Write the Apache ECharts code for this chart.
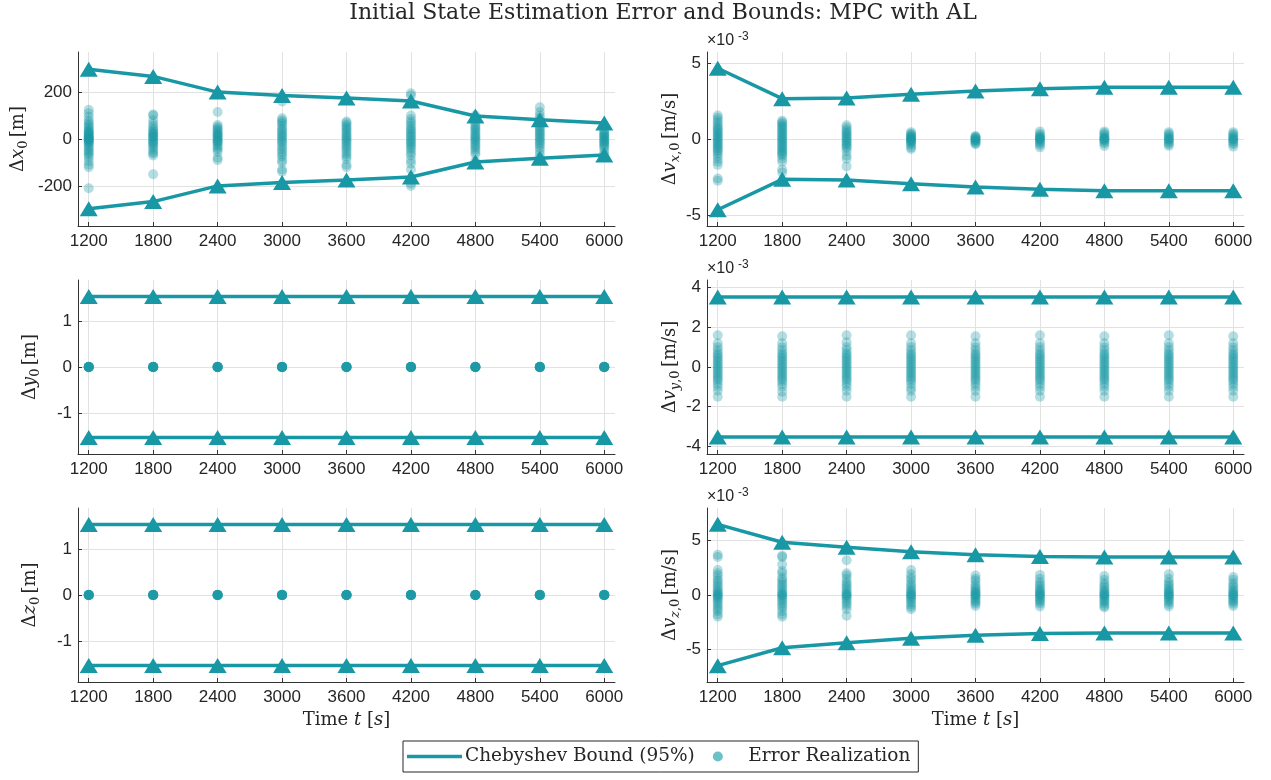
<!DOCTYPE html>
<html><head><meta charset="utf-8">
<script src="https://cdn.jsdelivr.net/npm/echarts@6/dist/echarts.min.js"></script>
<style>html,body{margin:0;padding:0;background:#fff}#c{width:1271px;height:780px}</style>
</head><body><div id="c"></div>
<script>
// ---------------- DATA ----------------
const times = [1200, 1800, 2400, 3000, 3600, 4200, 4800, 5400, 6000];
const xTickValues = [1200, 1800, 2400, 3000, 3600, 4200, 4800, 5400, 6000];

// Chebyshev bounds (upper; lower is the negative)
const boundX  = [297, 267, 200, 186, 175, 162, 98, 82, 68];           // m
const boundVx = [4.65, 2.65, 2.7, 2.95, 3.15, 3.3, 3.4, 3.4, 3.4];    // 1e-3 m/s
const boundY  = [1.53, 1.53, 1.53, 1.53, 1.53, 1.53, 1.53, 1.53, 1.53]; // m
const boundVy = [3.52, 3.52, 3.52, 3.52, 3.52, 3.52, 3.52, 3.52, 3.52]; // 1e-3 m/s
const boundZ  = [1.53, 1.53, 1.53, 1.53, 1.53, 1.53, 1.53, 1.53, 1.53]; // m
const boundVz = [6.5, 4.85, 4.38, 3.98, 3.7, 3.55, 3.5, 3.5, 3.5];    // 1e-3 m/s

// Error realizations, one list per time
const errX = [
  [125,110,95,80,70,62,55,48,40,35,30,28,22,18,15,10,8,5,2,0,-3,-5,-10,-14,-18,-25,-32,-40,-48,-55,-62,-70,-80,-95,-110,-120,-210],
  [105,100,80,65,55,45,38,30,25,22,15,10,8,2,-5,-12,-15,-20,-28,-35,-45,-55,-62,-70,-150],
  [115,60,52,45,40,33,27,20,18,14,8,3,-2,-8,-10,-15,-22,-30,-38,-45,-55,-80,-90],
  [160,88,80,72,65,55,45,38,30,22,15,8,0,-8,-15,-25,-35,-45,-55,-65,-75,-90,-100,-130,-140],
  [170,75,68,60,52,45,38,30,22,15,8,2,-5,-12,-20,-28,-36,-45,-55,-65,-75,-85,-110,-120],
  [195,185,100,85,75,65,55,45,38,30,22,15,8,0,-8,-15,-22,-30,-38,-48,-60,-70,-90,-105,-130,-190,-200],
  [100,85,70,60,52,45,38,30,22,15,8,2,-5,-12,-20,-28,-35,-45,-55,-65,-95],
  [135,115,100,88,75,65,55,48,40,32,25,18,10,3,-5,-12,-20,-28,-38,-50,-65,-80],
  [38,32,25,20,15,10,5,0,-5,-10,-15,-20,-25,-32,-40,-55,-65]
];
const errVx = [
  [1.55,1.4,1.25,1.1,0.95,0.8,0.7,0.6,0.5,0.4,0.3,0.2,0.1,0,-0.1,-0.2,-0.3,-0.4,-0.5,-0.6,-0.7,-0.8,-0.95,-1.1,-1.3,-1.5,-1.7,-2.6,-2.75],
  [1.2,1.1,1.0,0.9,0.8,0.7,0.6,0.5,0.4,0.3,0.2,0.1,0,-0.1,-0.2,-0.3,-0.4,-0.5,-0.6,-0.7,-0.8,-0.9,-1.0,-1.1,-1.3,-1.5,-2.0,-2.2],
  [0.9,0.75,0.6,0.5,0.4,0.3,0.2,0.1,0,-0.1,-0.2,-0.3,-0.4,-0.5,-0.6,-0.8,-1.1,-1.3,-1.8],
  [0.45,0.35,0.3,0.2,0.15,0.1,0.05,0,-0.05,-0.1,-0.15,-0.2,-0.3,-0.4,-0.55,-0.65],
  [0.2,0.15,0.1,0.05,0,-0.05,-0.1,-0.15,-0.2,-0.3,-0.35],
  [0.5,0.35,0.25,0.15,0.1,0.05,0,-0.05,-0.1,-0.2,-0.3,-0.4,-0.55],
  [0.5,0.4,0.3,0.2,0.1,0.05,0,-0.05,-0.1,-0.2,-0.3,-0.45],
  [0.45,0.35,0.25,0.15,0.05,0,-0.05,-0.15,-0.25,-0.35,-0.45],
  [0.45,0.35,0.25,0.15,0.05,0,-0.05,-0.15,-0.25,-0.35,-0.5]
];
const errY = [
  [0.004,-0.003,0,0.002,-0.002,0.001,-0.001,0.003,-0.004,0],
  [0.004,-0.003,0,0.002,-0.002,0.001,-0.001,0.003,-0.004,0],
  [0.004,-0.003,0,0.002,-0.002,0.001,-0.001,0.003,-0.004,0],
  [0.004,-0.003,0,0.002,-0.002,0.001,-0.001,0.003,-0.004,0],
  [0.004,-0.003,0,0.002,-0.002,0.001,-0.001,0.003,-0.004,0],
  [0.004,-0.003,0,0.002,-0.002,0.001,-0.001,0.003,-0.004,0],
  [0.004,-0.003,0,0.002,-0.002,0.001,-0.001,0.003,-0.004,0],
  [0.004,-0.003,0,0.002,-0.002,0.001,-0.001,0.003,-0.004,0],
  [0.004,-0.003,0,0.002,-0.002,0.001,-0.001,0.003,-0.004,0]
];
const errVy = [
  [1.6,1.2,1.0,0.85,0.7,0.6,0.5,0.4,0.3,0.2,0.1,0,-0.1,-0.2,-0.3,-0.4,-0.5,-0.6,-0.7,-0.85,-1.0,-1.2,-1.5],
  [1.55,1.2,1.0,0.85,0.7,0.6,0.5,0.4,0.3,0.2,0.1,0,-0.1,-0.2,-0.3,-0.4,-0.5,-0.6,-0.7,-0.85,-1.0,-1.25,-1.5],
  [1.6,1.25,1.0,0.85,0.7,0.6,0.5,0.4,0.3,0.2,0.1,0,-0.1,-0.2,-0.3,-0.4,-0.5,-0.6,-0.7,-0.85,-1.0,-1.2,-1.5],
  [1.6,1.2,1.0,0.85,0.7,0.6,0.5,0.4,0.3,0.2,0.1,0,-0.1,-0.2,-0.3,-0.4,-0.5,-0.6,-0.7,-0.85,-1.05,-1.2,-1.5],
  [1.55,1.2,1.0,0.85,0.7,0.6,0.5,0.4,0.3,0.2,0.1,0,-0.1,-0.2,-0.3,-0.4,-0.5,-0.6,-0.7,-0.85,-1.0,-1.2,-1.5],
  [1.6,1.2,1.0,0.85,0.7,0.6,0.5,0.4,0.3,0.2,0.1,0,-0.1,-0.2,-0.3,-0.4,-0.5,-0.6,-0.7,-0.85,-1.0,-1.2,-1.5],
  [1.55,1.2,1.0,0.85,0.7,0.6,0.5,0.4,0.3,0.2,0.1,0,-0.1,-0.2,-0.3,-0.4,-0.5,-0.6,-0.7,-0.85,-1.0,-1.2,-1.5],
  [1.6,1.2,1.0,0.85,0.7,0.6,0.5,0.4,0.3,0.2,0.1,0,-0.1,-0.2,-0.3,-0.4,-0.5,-0.6,-0.7,-0.85,-1.0,-1.2,-1.5],
  [1.55,1.2,1.0,0.85,0.7,0.6,0.5,0.4,0.3,0.2,0.1,0,-0.1,-0.2,-0.3,-0.4,-0.5,-0.6,-0.7,-0.85,-1.0,-1.2,-1.5]
];
const errZ = errY.map(c => c.slice());
const errVz = [
  [3.7,3.5,2.3,2.0,1.8,1.5,1.3,1.1,0.9,0.7,0.5,0.35,0.2,0.1,0,-0.1,-0.2,-0.35,-0.5,-0.7,-0.9,-1.1,-1.3,-1.5,-1.8,-2.0],
  [3.6,3.5,2.8,2.2,2.0,1.6,1.4,1.2,1.0,0.8,0.6,0.4,0.2,0.1,0,-0.1,-0.25,-0.4,-0.6,-0.8,-1.0,-1.2,-1.5,-1.8,-2.0],
  [3.2,2.0,1.8,1.5,1.2,1.0,0.8,0.6,0.4,0.2,0.1,0,-0.1,-0.2,-0.4,-0.6,-0.8,-1.0,-1.3,-1.9],
  [2.3,1.9,1.6,1.4,1.1,0.9,0.7,0.5,0.35,0.2,0.1,0,-0.1,-0.2,-0.35,-0.5,-0.7,-0.9,-1.1,-1.3],
  [1.8,1.5,1.3,1.0,0.8,0.6,0.45,0.3,0.2,0.1,0,-0.1,-0.2,-0.35,-0.5,-0.65,-0.8,-1.0],
  [1.85,1.5,1.2,1.0,0.8,0.6,0.45,0.3,0.2,0.1,0,-0.1,-0.2,-0.35,-0.5,-0.65,-0.8,-1.05],
  [1.75,1.4,1.1,0.9,0.7,0.5,0.35,0.2,0.1,0,-0.1,-0.2,-0.35,-0.5,-0.65,-0.8,-1.0,-1.15],
  [1.9,1.5,1.2,1.0,0.8,0.6,0.45,0.3,0.2,0.1,0,-0.1,-0.2,-0.35,-0.5,-0.65,-0.85,-1.05],
  [1.65,1.4,1.1,0.9,0.7,0.5,0.35,0.2,0.1,0,-0.1,-0.2,-0.35,-0.5,-0.65,-0.8,-1.0]
];

const yTicksX  = [-200, 0, 200];
const yTicksVx = [-5, 0, 5];
const yTicksY  = [-1, 0, 1];
const yTicksVy = [-4, -2, 0, 2, 4];
const yTicksZ  = [-1, 0, 1];
const yTicksVz = [-5, 0, 5];

const titleText = 'Initial State Estimation Error and Bounds: MPC with AL';
const boundName = 'Chebyshev Bound (95%)';
const errName = 'Error Realization';

// ---------------- STYLE / LAYOUT ----------------
const C = '#1897a5';
const TXT = '#262626';
const SERIF = '"DejaVu Serif", serif';
const SANS = '"Liberation Sans", Arial, sans-serif';
const gridsPos = [
  {left: 78, top: 52}, {left: 707, top: 52},
  {left: 78, top: 280}, {left: 707, top: 280},
  {left: 78, top: 508}, {left: 707, top: 508}
];
const panels = [
  {err: errX,  bnd: boundX,  ticks: yTicksX,  lim: 371,  name: '{r|Δ}{i|x}{s0|0} {r|[m]}', gap: 48},
  {err: errVx, bnd: boundVx, ticks: yTicksVx, lim: 5.72, name: '{r|Δ}{i|v}{s|x}{s0|,0} {r|[m/s]}', gap: 24, sci: true},
  {err: errY,  bnd: boundY,  ticks: yTicksY,  lim: 1.89, name: '{r|Δ}{i|y}{s0|0} {r|[m]}', gap: 36},
  {err: errVy, bnd: boundVy, ticks: yTicksVy, lim: 4.38, name: '{r|Δ}{i|v}{s|y}{s0|,0} {r|[m/s]}', gap: 24, sci: true},
  {err: errZ,  bnd: boundZ,  ticks: yTicksZ,  lim: 1.89, name: '{r|Δ}{i|z}{s0|0} {r|[m]}', gap: 36},
  {err: errVz, bnd: boundVz, ticks: yTicksVz, lim: 8.0,  name: '{r|Δ}{i|v}{s|z}{s0|,0} {r|[m/s]}', gap: 24, sci: true}
];
const nameRich = {
  r:  {fontFamily: SERIF, fontSize: 18, color: TXT},
  i:  {fontFamily: SERIF, fontSize: 18, fontStyle: 'italic', color: TXT},
  s:  {fontFamily: SERIF, fontSize: 13, fontStyle: 'italic', color: TXT, padding: [10, 0, 0, 0]},
  s0: {fontFamily: SERIF, fontSize: 13, color: TXT, padding: [10, 0, 0, 0]}
};
const plain = v => String(v);

const grid = [], xAxis = [], yAxis = [], series = [], graphic = [];
panels.forEach((p, k) => {
  grid.push({left: gridsPos[k].left, top: gridsPos[k].top, width: 537, height: 174});
  const bottomRow = k >= 4;
  xAxis.push({
    type: 'value', gridIndex: k, min: 1100, max: 6100,
    axisLine: {show: true, onZero: false, lineStyle: {color: '#333', width: 1}},
    axisTick: {show: true, inside: true, length: 4, customValues: xTickValues, lineStyle: {color: '#333'}},
    axisLabel: {customValues: xTickValues, formatter: plain, color: TXT, fontFamily: SANS, fontSize: 17, margin: 7},
    splitLine: {show: true, lineStyle: {color: '#e2e2e2', width: 1}},
    name: bottomRow ? '{r|Time }{i|t}{r| [}{i|s}{r|]}' : '',
    nameLocation: 'middle', nameGap: 29,
    nameTextStyle: {rich: nameRich}
  });
  yAxis.push({
    type: 'value', gridIndex: k, min: -p.lim, max: p.lim,
    axisLine: {show: true, onZero: false, lineStyle: {color: '#333', width: 1}},
    axisTick: {show: true, inside: true, length: 4, customValues: p.ticks, lineStyle: {color: '#333'}},
    axisLabel: {customValues: p.ticks, formatter: plain, color: TXT, fontFamily: SANS, fontSize: 17, margin: 6},
    splitLine: {show: true, lineStyle: {color: '#e2e2e2', width: 1}},
    name: p.name, nameLocation: 'middle', nameGap: p.gap, nameRotate: 90,
    nameTextStyle: {rich: nameRich}
  });
  const pts = [];
  times.forEach((t, j) => p.err[j].forEach(v => pts.push([t, v])));
  series.push({
    type: 'scatter', name: errName, xAxisIndex: k, yAxisIndex: k,
    data: pts, symbolSize: 10, itemStyle: {color: C, opacity: 0.32}, z: 2
  });
  const up = times.map((t, j) => [t, p.bnd[j]]);
  const lo = times.map((t, j) => [t, -p.bnd[j]]);
  [up, lo].forEach(d => series.push({
    type: 'line', name: boundName, xAxisIndex: k, yAxisIndex: k, data: d,
    symbol: 'triangle', symbolSize: [18, 15], showSymbol: true,
    lineStyle: {color: C, width: 3.5}, itemStyle: {color: C}, z: 3
  }));
  if (p.sci) {
    graphic.push({
      type: 'text', x: 707, y: gridsPos[k].top - 3,
      style: {text: '×10', font: '16px "Liberation Sans", Arial, sans-serif', fill: TXT, verticalAlign: 'bottom'}
    });
    graphic.push({
      type: 'text', x: 738, y: gridsPos[k].top - 9,
      style: {text: '-3', font: '12px "Liberation Sans", Arial, sans-serif', fill: TXT, verticalAlign: 'bottom'}
    });
  }
});

const option = {
  animation: false,
  backgroundColor: '#fff',
  title: {
    text: titleText, left: 658, top: -3, textAlign: 'center',
    textStyle: {fontFamily: SERIF, fontSize: 22, fontWeight: 'normal', color: TXT}
  },
  legend: {
    left: 403, top: 741,
    data: [
      {name: boundName, icon: 'path://M0,0L60,0L60,4L0,4Z'},
      {name: errName, icon: 'circle', itemStyle: {color: '#6cc0c8', opacity: 1}}
    ],
    itemWidth: 55, itemHeight: 10, itemGap: 18,
    borderColor: '#262626', borderWidth: 1, borderRadius: 0,
    padding: [6, 8, 6, 4],
    textStyle: {fontFamily: SERIF, fontSize: 18.5, color: TXT, padding: [0, 0, 0, -2]},
    selectedMode: false
  },
  grid, xAxis, yAxis, series, graphic
};
const chart = echarts.init(document.getElementById('c'), null, {renderer: 'canvas'});
chart.setOption(option);
</script></body></html>
